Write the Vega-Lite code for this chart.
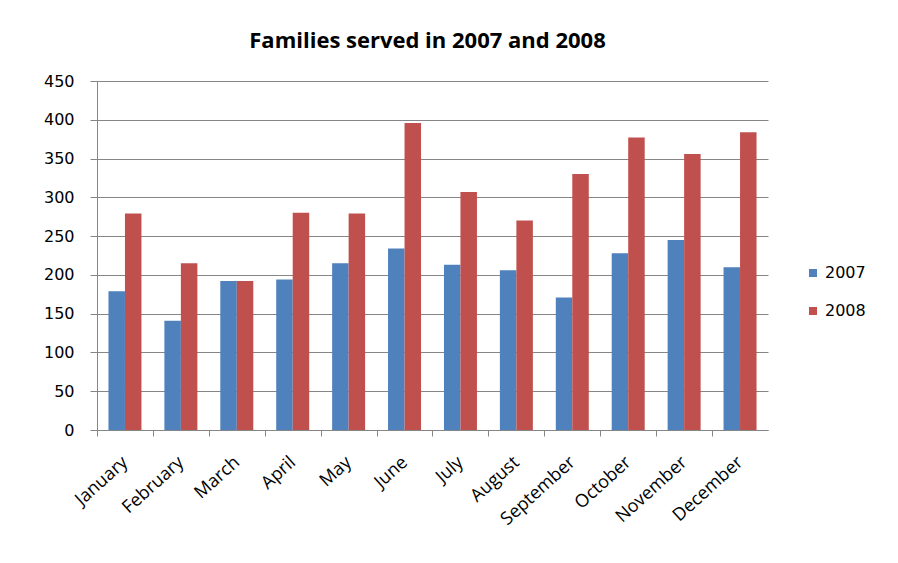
{
  "$schema": "https://vega.github.io/schema/vega-lite/v6.json",
  "width": 671,
  "height": 349,
  "autosize": {"type": "none"},
  "padding": {"left": 97, "top": 81, "right": 130, "bottom": 133},
  "background": "white",
  "title": {
    "text": "Families served in 2007  and 2008",
    "font": "Open Sans",
    "fontSize": 22,
    "fontWeight": "bold",
    "color": "#000000",
    "anchor": "middle",
    "offset": 20,
    "dx": -5
  },
  "data": {
    "values": [
      {"month": "January", "year": "2007", "families": 179},
      {"month": "January", "year": "2008", "families": 279},
      {"month": "February", "year": "2007", "families": 141},
      {"month": "February", "year": "2008", "families": 215},
      {"month": "March", "year": "2007", "families": 192},
      {"month": "March", "year": "2008", "families": 192},
      {"month": "April", "year": "2007", "families": 194},
      {"month": "April", "year": "2008", "families": 280},
      {"month": "May", "year": "2007", "families": 215},
      {"month": "May", "year": "2008", "families": 279},
      {"month": "June", "year": "2007", "families": 234},
      {"month": "June", "year": "2008", "families": 396},
      {"month": "July", "year": "2007", "families": 213},
      {"month": "July", "year": "2008", "families": 307},
      {"month": "August", "year": "2007", "families": 206},
      {"month": "August", "year": "2008", "families": 270},
      {"month": "September", "year": "2007", "families": 171},
      {"month": "September", "year": "2008", "families": 330},
      {"month": "October", "year": "2007", "families": 228},
      {"month": "October", "year": "2008", "families": 377},
      {"month": "November", "year": "2007", "families": 245},
      {"month": "November", "year": "2008", "families": 356},
      {"month": "December", "year": "2007", "families": 210},
      {"month": "December", "year": "2008", "families": 384}
    ]
  },
  "mark": {"type": "bar"},
  "encoding": {
    "x": {
      "field": "month",
      "type": "nominal",
      "sort": ["January", "February", "March", "April", "May", "June", "July", "August", "September", "October", "November", "December"],
      "scale": {"paddingInner": 0.41, "paddingOuter": 0.205},
      "axis": {
        "title": null,
        "grid": false,
        "domainColor": "#868686",
        "tickColor": "#868686",
        "tickSize": 6,
        "tickOffset": -28,
        "labelOffset": 22,
        "labelAngle": -42,
        "labelAlign": "right",
        "labelBaseline": "top",
        "labelPadding": 17,
        "labelFont": "Open Sans",
        "labelFontSize": 18,
        "labelColor": "#000000"
      }
    },
    "xOffset": {"field": "year", "type": "nominal"},
    "y": {
      "field": "families",
      "type": "quantitative",
      "scale": {"domain": [0, 450], "nice": false},
      "axis": {
        "title": null,
        "values": [0, 50, 100, 150, 200, 250, 300, 350, 400, 450],
        "grid": true,
        "gridColor": "#868686",
        "gridWidth": 1,
        "domainColor": "#868686",
        "tickColor": "#868686",
        "tickSize": 7,
        "labelPadding": 16,
        "labelFont": "DejaVu Sans",
        "labelFontSize": 16,
        "labelColor": "#000000"
      }
    },
    "color": {
      "field": "year",
      "type": "nominal",
      "scale": {"domain": ["2007", "2008"], "range": ["#4F81BD", "#C0504D"]},
      "legend": {
        "title": null,
        "orient": "none",
        "legendX": 708,
        "legendY": 184,
        "padding": 0,
        "symbolType": "square",
        "symbolSize": 64,
        "symbolStrokeWidth": 0,
        "labelFont": "DejaVu Sans",
        "labelFontSize": 16,
        "labelColor": "#000000",
        "labelOffset": 4,
        "rowPadding": 22
      }
    }
  },
  "config": {"view": {"stroke": null}}
}
